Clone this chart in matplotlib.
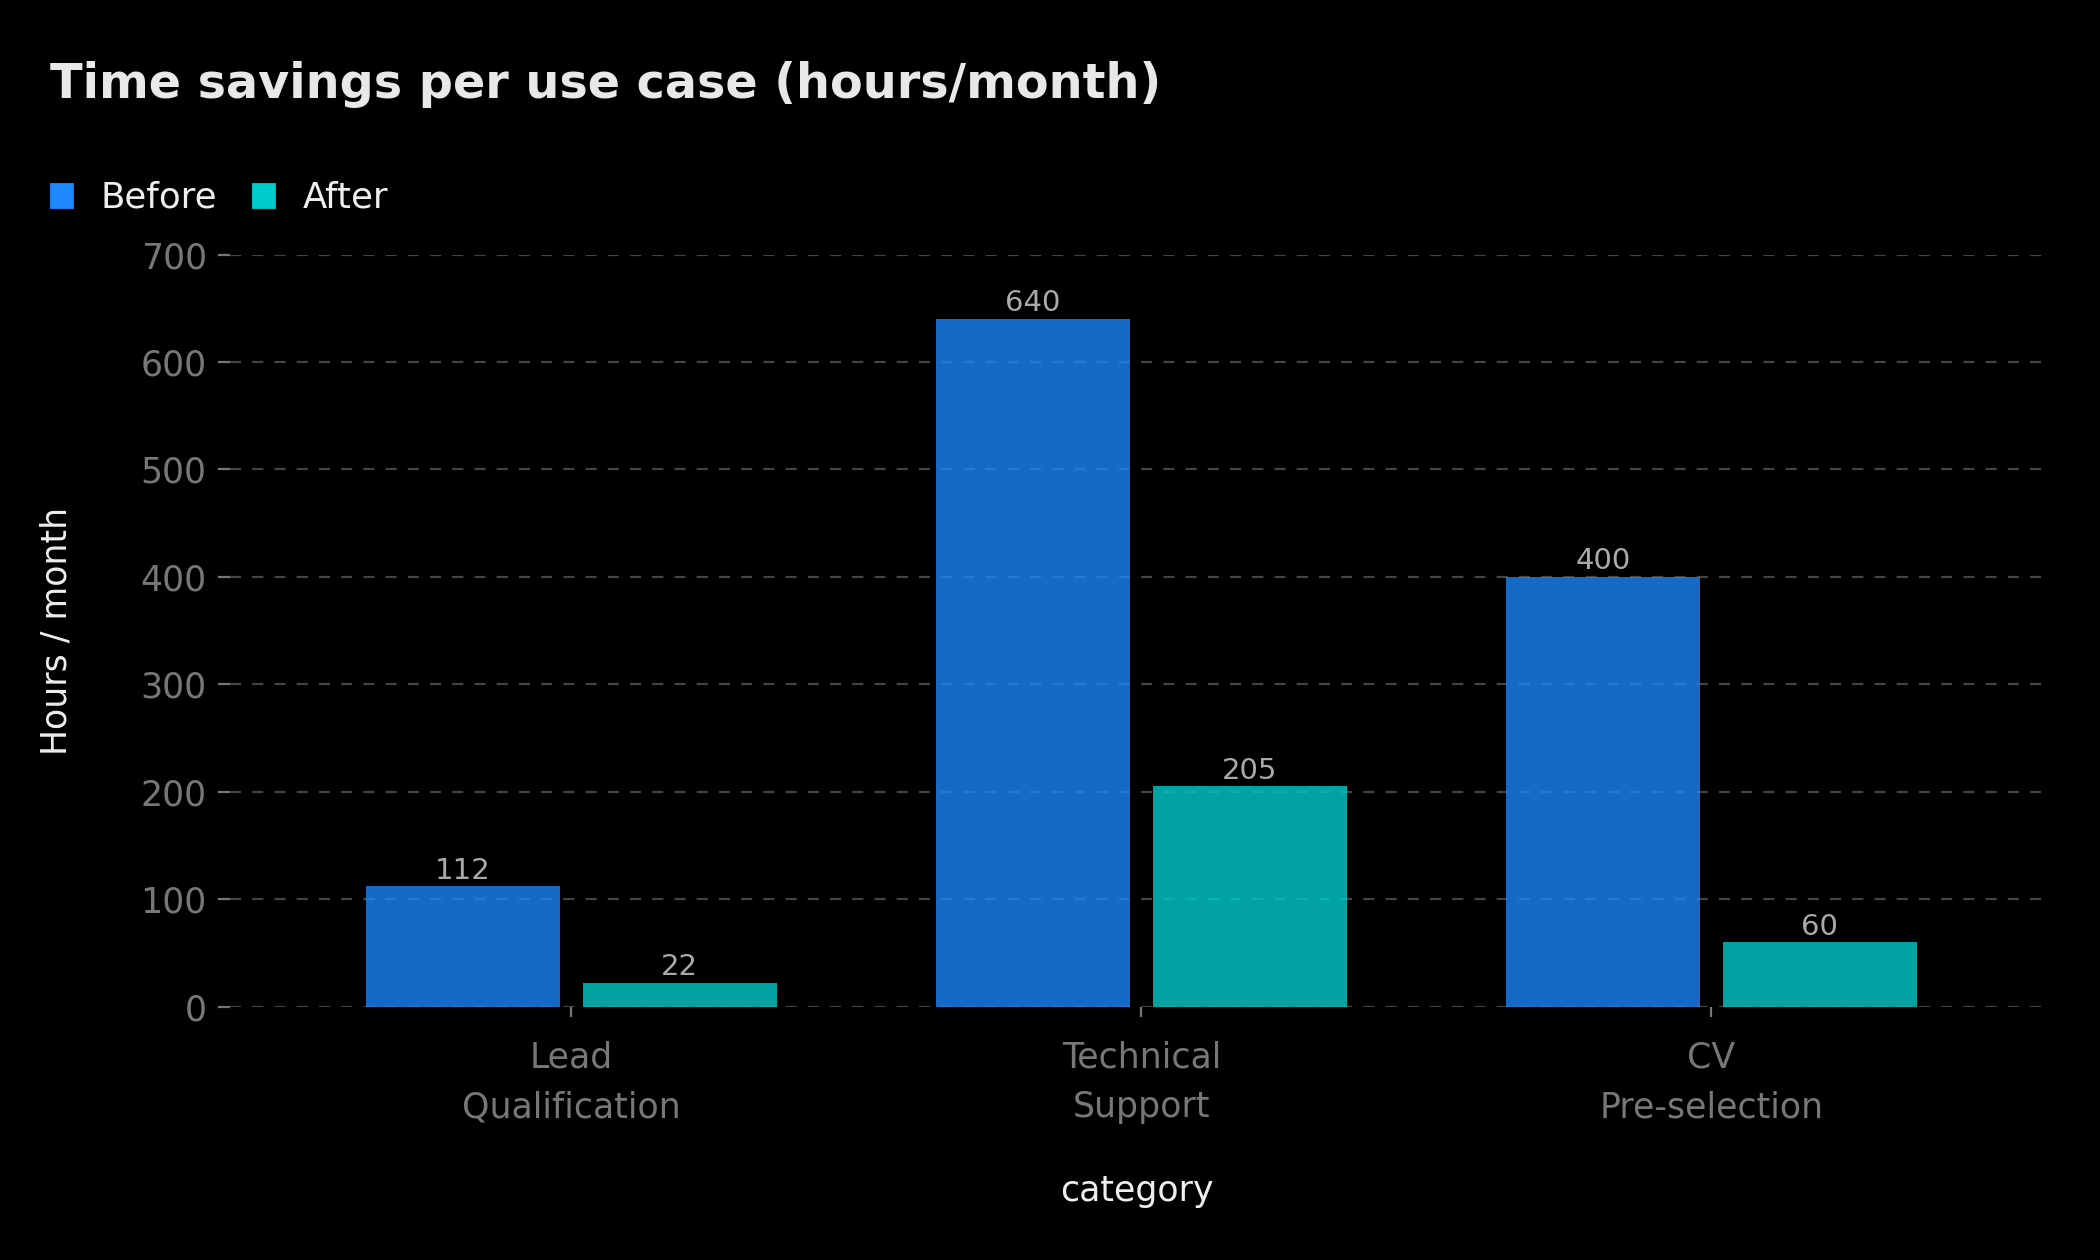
import numpy as np
import matplotlib
matplotlib.use("Agg")
import matplotlib.pyplot as plt
from matplotlib.patches import Patch

# Data
categories = ["Lead\nQualification", "Technical\nSupport", "CV\nPre-selection"]
before = [112, 640, 400]
after = [22, 205, 60]
series_names = ["Before", "After"]
colors = ["#1E88FF", "#00CCCC"]

plt.rcParams['font.family'] = ['DejaVu Sans']

fig = plt.figure(figsize=(10.5, 6.3), dpi=200, facecolor="black")
ax = fig.add_axes([0.1097, 0.201, 0.8633, 0.597])
ax.set_facecolor("black")

x = np.arange(len(categories))
w = 0.34
off = 0.19
b1 = ax.bar(x - off, before, w, color=colors[0], alpha=0.78, zorder=2)
b2 = ax.bar(x + off, after, w, color=colors[1], alpha=0.8, zorder=2)

# value labels above bars
for bars in (b1, b2):
    for r in bars:
        ax.text(r.get_x() + r.get_width() / 2, r.get_height() + 1.5,
                f"{int(r.get_height())}", ha="center", va="bottom",
                fontsize=10.5, color="#AAAAAA", zorder=3)

ax.set_ylim(0, 700)
ax.set_xlim(-0.598, 2.582)
ax.set_yticks(range(0, 701, 100))
ax.set_xticks(x)
ax.set_xticklabels(categories, linespacing=1.6)
ax.grid(axis="y", color="#444444", linestyle=(0, (5, 5)), linewidth=0.8, zorder=0)
for s in ax.spines.values():
    s.set_visible(False)
ax.tick_params(axis="y", colors="#777777", labelsize=12.5, length=4.5, width=0.8, pad=4)
ax.tick_params(axis="x", colors="#777777", labelsize=12.5, length=3.5, width=0.8, pad=8.5)

ax.set_ylabel("Hours / month", color="#EEEEEE", fontsize=12.5, labelpad=24)
ax.set_xlabel("category", color="#EEEEEE", fontsize=12.5, labelpad=18)

fig.text(0.0236, 0.922, "Time savings per use case (hours/month)",
         fontsize=17.2, fontweight="bold", color="#E8E8E8", va="baseline")

handles = [Patch(color=c, label=n) for c, n in zip(colors, series_names)]
fig.legend(handles=handles, loc="center left", bbox_to_anchor=(0.009, 0.843),
           ncol=2, frameon=False, fontsize=12.8, labelcolor="#EEEEEE",
           handlelength=0.6, handleheight=0.6, handletextpad=0.8, columnspacing=1.0)

fig.savefig("out.png", dpi=200, facecolor="black")
